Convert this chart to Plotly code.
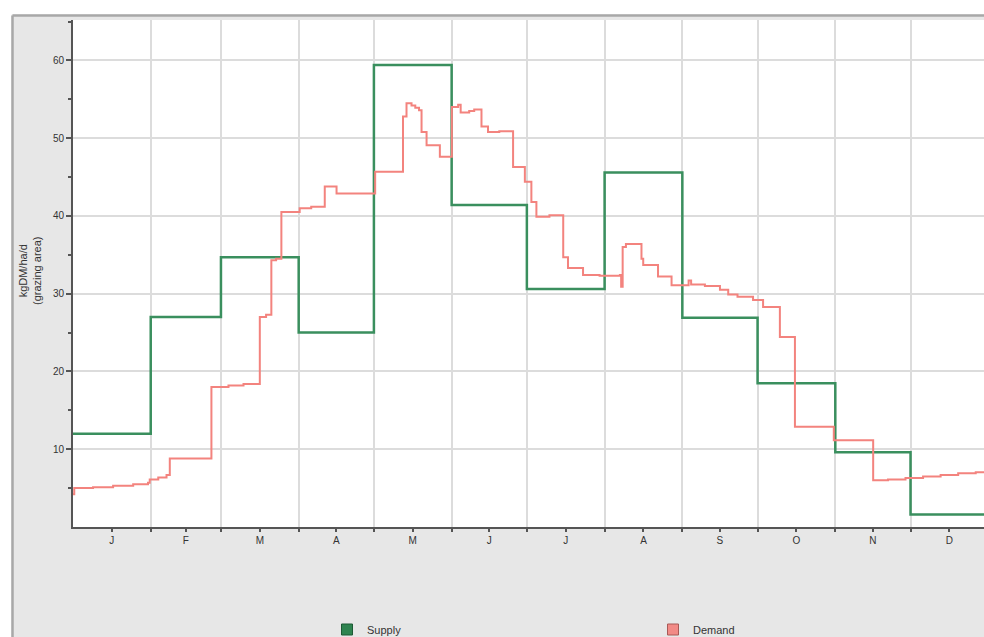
import plotly.graph_objects as go

# ---------------- data ----------------
month_letters = ["J", "F", "M", "A", "M", "J", "J", "A", "S", "O", "N", "D"]
month_start_day = [0, 31, 59, 90, 120, 151, 181, 212, 243, 273, 304, 334]
year_end_day = 365

# monthly pasture supply (kgDM/ha/d)
supply_values = [12.0, 27.0, 34.7, 25.0, 59.4, 41.4, 30.6, 45.6, 26.9, 18.5, 9.6, 1.6]

# feed demand breakpoints (day of year, kgDM/ha/d), stepped
demand_day = [0, 0.5, 8, 16, 24, 29.9, 30.6, 34, 37.3, 38.6, 55.2, 62, 68, 74.5, 77,
              79.1, 81, 83.1, 90.4, 95, 100.4, 105.1, 120.5, 131.6, 133.0, 135.0,
              136.5, 138.0, 139.0, 141.0, 146.3, 151.1, 153.6, 154.6, 158, 160,
              162.9, 165.5, 170, 175.5, 180.2, 182.8, 184.8, 190, 195.5, 197.4,
              203.4, 210, 218.1, 218.6, 219.2, 220.5, 226.7, 227.4, 233.3, 238.7,
              245.5, 246.5, 252, 258, 261.3, 265, 271.2, 275.2, 281.9, 287.9,
              303.4, 319.1, 325, 332, 339, 346, 353, 360, 365]
demand_value = [4.2, 5.0, 5.1, 5.3, 5.5, 5.7, 6.1, 6.35, 6.7, 8.8, 18.0, 18.2, 18.4, 27.0, 27.3,
                34.3, 34.5, 40.5, 41.0, 41.2, 43.8, 42.9, 45.7, 52.8, 54.5, 54.2,
                53.9, 53.6, 50.8, 49.1, 47.6, 54.0, 54.3, 53.3, 53.5, 53.7,
                51.5, 50.8, 50.9, 46.3, 44.4, 41.8, 39.9, 40.1, 34.7, 33.3,
                32.4, 32.3, 32.4, 30.9, 36.0, 36.4, 34.5, 33.7, 32.2, 31.1,
                31.7, 31.2, 31.0, 30.5, 29.9, 29.6, 29.2, 28.3, 24.45, 12.9,
                11.15, 6.0, 6.1, 6.3, 6.5, 6.7, 6.9, 7.05, 7.15]

y_tick_values = [10, 20, 30, 40, 50, 60]
y_minor_values = [5, 15, 25, 35, 45, 55, 65]
x_visible_end_day = 363.3

# ---------------- derived ----------------
month_bounds = month_start_day + [year_end_day]
month_centers = [(month_bounds[i] + month_bounds[i + 1]) / 2 for i in range(12)]
supply_x = month_bounds
supply_y = supply_values + [supply_values[-1]]

GREEN = "#3a8f5e"
RED = "#f3837e"
GRID = "#dcdcdc"
AXIS = "#555555"
TEXT = "#333333"
FONT = "Liberation Sans"

fig = go.Figure()
fig.add_trace(go.Scatter(x=supply_x, y=supply_y, mode="lines", line_shape="hv",
                         line=dict(color=GREEN, width=2.5), showlegend=False,
                         name="Supply"))
fig.add_trace(go.Scatter(x=demand_day, y=demand_value, mode="lines", line_shape="hv",
                         line=dict(color=RED, width=2), showlegend=False,
                         name="Demand"))
# legend entries (square swatches)
fig.add_trace(go.Scatter(x=[None], y=[None], mode="markers", name="Supply",
                         marker=dict(symbol="square", size=11, color="#2f8450",
                                     line=dict(color="#1d5a35", width=1))))
fig.add_trace(go.Scatter(x=[None], y=[None], mode="markers", name="Demand",
                         marker=dict(symbol="square", size=11, color="#f28a86",
                                     line=dict(color="#a85a57", width=1))))

W, H = 984, 637
ML, MR, MT, MB = 73, 0, 20, 110
pw = W - ML - MR
ph = H - MT - MB


def px_x(p):
    return (p - ML) / pw


def px_y(p):
    return (H - MB - p) / ph


shapes = [
    # white strip to the left of the frame
    dict(type="rect", xref="paper", yref="paper", x0=px_x(-5), x1=px_x(11.5),
         y0=px_y(H + 5), y1=px_y(-5), fillcolor="white", line=dict(width=0), layer="below"),
    # white strip above the frame
    dict(type="rect", xref="paper", yref="paper", x0=px_x(-5), x1=px_x(W + 5),
         y0=px_y(14.5), y1=px_y(-5), fillcolor="white", line=dict(width=0), layer="below"),
    # frame border
    dict(type="line", xref="paper", yref="paper", x0=px_x(12.5), x1=px_x(12.5),
         y0=px_y(H + 5), y1=px_y(15.5), line=dict(color="#a8a8a8", width=2.5), layer="below"),
    dict(type="line", xref="paper", yref="paper", x0=px_x(12.5), x1=px_x(W + 5),
         y0=px_y(15.5), y1=px_y(15.5), line=dict(color="#a8a8a8", width=2.5), layer="below"),
]

fig.update_layout(
    width=W, height=H,
    margin=dict(l=ML, r=MR, t=MT, b=MB, pad=0, autoexpand=False),
    paper_bgcolor="#e7e7e7",
    plot_bgcolor="white",
    font=dict(family=FONT, size=10, color=TEXT),
    shapes=shapes,
    showlegend=True,
    legend=dict(orientation="h", x=px_x(327), xanchor="left", y=px_y(615), yanchor="top",
                font=dict(size=11, color=TEXT, family=FONT), bgcolor="rgba(0,0,0,0)",
                entrywidth=281, entrywidthmode="pixels", itemclick=False),
    annotations=[dict(text="kgDM/ha/d<br>(grazing area)", xref="paper", yref="paper",
                      x=px_x(30), y=px_y(271), xanchor="center", yanchor="middle",
                      textangle=-90, showarrow=False,
                      font=dict(size=11, color=TEXT, family=FONT))],
)

fig.update_xaxes(
    range=[0, x_visible_end_day],
    tickmode="array", tickvals=month_centers, ticktext=month_letters,
    ticks="outside", ticklen=3, tickwidth=1.5, tickcolor=AXIS,
    showgrid=False, zeroline=False,
    showline=True, linecolor=AXIS, linewidth=2,
    tickfont=dict(size=10, color=TEXT),
    minor=dict(tickmode="array", tickvals=month_start_day[1:], ticks="outside",
               ticklen=3, tickwidth=1.5, tickcolor=AXIS,
               showgrid=True, gridcolor=GRID, gridwidth=1.5),
)
fig.update_yaxes(
    range=[0, 65.2],
    tickmode="array", tickvals=y_tick_values,
    ticks="outside", ticklen=5, tickwidth=1.5, tickcolor=AXIS,
    showgrid=True, gridcolor=GRID, gridwidth=1.5, zeroline=False,
    showline=True, linecolor=AXIS, linewidth=2,
    tickfont=dict(size=10, color=TEXT),
    minor=dict(tickmode="array", tickvals=y_minor_values, ticks="outside",
               ticklen=3, tickwidth=1.5, tickcolor=AXIS, showgrid=False),
)

fig.write_html(
    "out.html",
    config={"displayModeBar": False},
    post_script="document.documentElement.style.margin='0';"
                "document.body.style.margin='0';"
                "document.body.style.overflow='hidden';",
)
